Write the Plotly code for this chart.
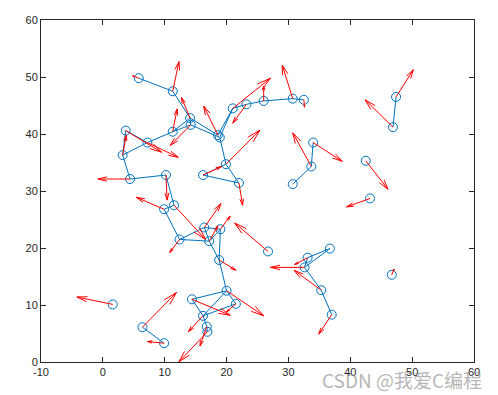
import plotly.graph_objects as go

# node positions
node_x = [5.8, 11.3, 14.1, 14.2, 11.3, 3.7, 7.2, 3.2, 4.4, 10.2,
          18.6, 18.9, 21.0, 23.2, 26.0, 30.7, 32.5, 19.9, 16.2, 22.0,
          11.5, 9.9, 12.4, 16.4, 19.0, 17.2, 18.8, 20.0, 14.4, 21.5,
          16.2, 16.8, 16.9, 6.4, 9.9, 1.6, 34.0, 33.7, 30.7, 42.5,
          43.2, 46.9, 47.4, 26.7, 36.7, 33.1, 32.6, 35.3, 37.0, 46.7]
node_y = [49.8, 47.5, 42.8, 41.6, 40.4, 40.6, 38.5, 36.3, 32.1, 32.8,
          39.8, 39.4, 44.5, 45.2, 45.8, 46.2, 46.0, 34.7, 32.8, 31.4,
          27.5, 26.8, 21.5, 23.6, 23.3, 21.2, 17.9, 12.5, 11.0, 10.2,
          8.1, 6.2, 5.3, 6.1, 3.3, 10.1, 38.5, 34.3, 31.2, 35.3,
          28.7, 41.2, 46.5, 19.4, 19.9, 18.3, 16.6, 12.6, 8.3, 15.3]
# arrow end points (tips)
tip_x = [4.8, 12.3, 12.7, 10.9, 12.0, 9.5, 12.2, 3.8, -0.8, 10.4,
         16.3, 18.9, 27.1, 21.0, 26.0, 29.0, 32.6, 25.4, 19.2, 22.6,
         16.6, 5.4, 10.8, 19.1, 20.6, 18.6, 21.5, 26.0, 20.6, 20.0,
         13.8, 15.7, 12.3, 11.9, 7.2, -4.2, 38.7, 30.7, 30.7, 46.1,
         39.4, 42.4, 50.2, 21.3, 36.7, 31.0, 27.1, 30.9, 34.9, 47.1]
tip_y = [50.2, 52.7, 46.4, 38.0, 44.4, 36.8, 35.9, 39.8, 32.1, 28.4,
         44.9, 39.4, 49.8, 41.9, 48.4, 52.1, 44.7, 40.7, 34.3, 27.5,
         21.5, 28.9, 19.2, 27.8, 25.6, 23.9, 16.1, 8.1, 8.2, 8.8,
         5.3, 2.8, 0.05, 12.2, 3.6, 11.4, 35.2, 40.2, 31.2, 30.3,
         27.2, 46.0, 51.3, 24.4, 19.9, 17.1, 16.6, 16.1, 4.9, 16.3]
# graph edges (node index pairs)
edge_a = [0, 1, 2, 2, 3, 2, 3, 4, 5, 5, 7, 7, 8, 10, 11, 12, 13, 14, 15, 11,
          17, 17, 18, 9, 20, 21, 22, 22, 23, 23, 24, 24, 25, 26, 27, 27, 28, 27, 29, 30,
          31, 33, 36, 37, 41, 44, 44, 45, 46, 47]
edge_b = [1, 2, 3, 4, 4, 10, 11, 6, 6, 7, 6, 8, 9, 12, 12, 13, 14, 15, 16, 17,
          18, 19, 19, 20, 21, 22, 23, 25, 25, 24, 25, 26, 26, 27, 28, 29, 30, 30, 30, 31,
          32, 34, 37, 38, 42, 45, 46, 46, 47, 48]

x_ticks = [-10, 0, 10, 20, 30, 40, 50, 60]
y_ticks = [0, 10, 20, 30, 40, 50, 60]

BLUE = "#0072BD"
RED = "#FF0000"

ex, ey = [], []
for a, b in zip(edge_a, edge_b):
    ex += [node_x[a], node_x[b], None]
    ey += [node_y[a], node_y[b], None]

alpha, beta = 0.28, 0.26
ax_, ay_ = [], []
for x0, y0, x1, y1 in zip(node_x, node_y, tip_x, tip_y):
    u, v = x1 - x0, y1 - y0
    if abs(u) + abs(v) < 1e-9:
        continue
    ax_ += [x0, x1, None]
    ay_ += [y0, y1, None]
    h1x = x1 - alpha * (u + beta * v)
    h1y = y1 - alpha * (v - beta * u)
    h2x = x1 - alpha * (u - beta * v)
    h2y = y1 - alpha * (v + beta * u)
    ax_ += [h1x, x1, h2x, None]
    ay_ += [h1y, y1, h2y, None]

fig = go.Figure()
fig.add_trace(go.Scatter(x=ex, y=ey, mode="lines",
                         line=dict(color=BLUE, width=1), hoverinfo="skip"))
fig.add_trace(go.Scatter(x=node_x, y=node_y, mode="markers",
                         marker=dict(symbol="circle-open", size=9,
                                     color=BLUE, line=dict(width=1, color=BLUE))))
fig.add_trace(go.Scatter(x=ax_, y=ay_, mode="lines",
                         line=dict(color=RED, width=1), hoverinfo="skip"))

axis_common = dict(showgrid=False, zeroline=False, showline=True, mirror="ticks",
                   linecolor="#262626", linewidth=1, ticks="inside", ticklen=5,
                   tickcolor="#262626", tickfont=dict(family="Liberation Sans, Arial",
                                                      size=11, color="#262626"))
fig.update_xaxes(range=[-10, 60], tickvals=x_ticks, ticktext=[str(t) for t in x_ticks],
                 **axis_common)
fig.update_yaxes(range=[0, 60], tickvals=y_ticks, ticktext=[str(t) for t in y_ticks],
                 **axis_common)

fig.add_annotation(text="CSDN @我爱C编程", xref="paper", yref="paper",
                   x=0.833, y=-0.05, showarrow=False, xanchor="center", yanchor="middle",
                   font=dict(family="Noto Sans CJK SC", size=19,
                             color="rgba(150,150,150,0.7)"))

fig.update_layout(width=498, height=395, showlegend=False,
                  plot_bgcolor="white", paper_bgcolor="white",
                  margin=dict(l=41, r=24, t=20, b=33))

fig.write_html("out.html")
